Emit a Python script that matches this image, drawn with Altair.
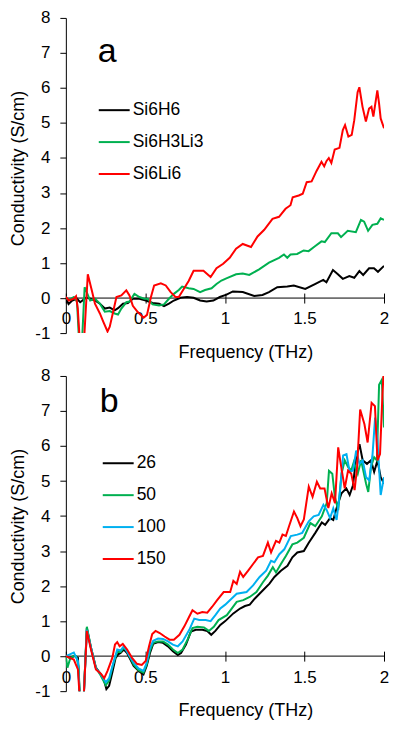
import altair as alt
import pandas as pd

FONT = "Liberation Sans"

# ---------------- Panel a ----------------
a_names = ["Si6H6", "Si6H3Li3", "Si6Li6"]
a_colors = ["#000000", "#00B050", "#FF0000"]

a_black_f = [0, 0.017, 0.04, 0.07, 0.09, 0.13, 0.153, 0.183, 0.214, 0.245, 0.276, 0.307, 0.328, 0.359,
             0.39, 0.421, 0.462, 0.504, 0.545, 0.586, 0.617, 0.648, 0.679, 0.72, 0.762, 0.803, 0.844,
             0.885, 0.927, 0.968, 1.01, 1.05, 1.112, 1.184, 1.236, 1.277, 1.329, 1.392, 1.433, 1.505,
             1.566, 1.618, 1.638, 1.679, 1.71, 1.741, 1.782, 1.813, 1.845, 1.869, 1.906, 1.937, 1.962, 2.0]
a_black_v = [0, -0.17, -0.07, -0.02, -0.12, 0.02, -0.02, -0.07, -0.16, -0.30, -0.27, -0.35, -0.29, -0.16,
             -0.14, -0.02, -0.02, -0.07, -0.14, -0.16, -0.23, -0.16, -0.07, 0.01, 0.03, 0.01, -0.07,
             -0.10, -0.07, 0.03, 0.10, 0.19, 0.17, 0.06, 0.09, 0.17, 0.31, 0.33, 0.36, 0.26,
             0.40, 0.52, 0.45, 0.80, 0.68, 0.55, 0.63, 0.58, 0.77, 0.66, 0.85, 0.85, 0.75, 0.92]

a_green_f = [0, 0.02, 0.05, 0.07, 0.085, 0.1, 0.118, 0.153, 0.183, 0.214, 0.245, 0.276, 0.307, 0.328,
             0.349, 0.38, 0.4, 0.431, 0.462, 0.493, 0.514, 0.545, 0.586, 0.617, 0.648, 0.679, 0.71,
             0.731, 0.772, 0.803, 0.844, 0.875, 0.916, 0.947, 0.978, 1.009, 1.07, 1.112, 1.153, 1.215,
             1.277, 1.34, 1.371, 1.392, 1.412, 1.454, 1.495, 1.526, 1.566, 1.607, 1.628, 1.669, 1.71,
             1.73, 1.772, 1.823, 1.855, 1.875, 1.9, 1.927, 1.958, 1.979, 2.0]
a_green_v = [0, -0.05, 0.03, -0.1, -1.4, -1.4, 0.31, -0.07, -0.02, -0.16, -0.39, -0.37, -0.44, -0.47,
             -0.30, -0.12, -0.10, 0.12, 0.03, -0.02, -0.02, -0.18, -0.21, -0.18, -0.02, 0.12, 0.23,
             0.33, 0.28, 0.26, 0.17, 0.23, 0.28, 0.40, 0.50, 0.56, 0.68, 0.70, 0.66, 0.82,
             1.01, 1.15, 1.245, 1.15, 1.245, 1.26, 1.36, 1.34, 1.48, 1.62, 1.60, 1.85, 1.85,
             1.74, 1.92, 1.88, 2.23, 2.18, 1.92, 2.09, 2.12, 2.275, 2.23]

a_red_f = [0, 0.019, 0.05, 0.064, 0.075, 0.09, 0.112, 0.138, 0.163, 0.183, 0.214, 0.235, 0.262, 0.276,
           0.297, 0.318, 0.349, 0.38, 0.4, 0.421, 0.452, 0.489, 0.51, 0.535, 0.555, 0.597, 0.628,
           0.659, 0.689, 0.71, 0.741, 0.772, 0.803, 0.865, 0.91, 0.947, 0.989, 1.03, 1.07, 1.112,
           1.164, 1.205, 1.247, 1.299, 1.34, 1.381, 1.412, 1.426, 1.464, 1.489, 1.514, 1.545, 1.576,
           1.607, 1.624, 1.638, 1.653, 1.669, 1.69, 1.72, 1.741, 1.755, 1.776, 1.797, 1.813, 1.834,
           1.845, 1.865, 1.886, 1.906, 1.921, 1.933, 1.958, 1.969, 1.979, 2.0]
a_red_v = [0.03, -0.07, -0.02, 0.05, -0.3, -1.4, -1.4, 0.68, 0.22, -0.16, -0.44, -0.67, -0.955, -0.82,
           -0.40, 0.03, 0.075, 0.22, 0.075, -0.22, -0.40, -0.56, -0.48, 0.03, 0.36, 0.42, 0.36,
           0.17, 0.03, 0.03, 0.26, 0.49, 0.78, 0.78, 0.60, 0.85, 0.98, 1.15, 1.41, 1.545,
           1.46, 1.76, 1.95, 2.26, 2.32, 2.55, 2.65, 2.88, 2.93, 2.98, 3.31, 3.33, 3.63,
           3.89, 3.76, 3.91, 4.0, 3.86, 4.24, 4.29, 4.8, 4.94, 4.61, 4.66, 5.08, 5.88,
           6.02, 5.46, 5.04, 5.41, 5.46, 5.18, 5.93, 5.55, 5.13, 4.85]

# ---------------- Panel b ----------------
b_names = ["26", "50", "100", "150"]
b_colors = ["#000000", "#00B050", "#00B0F0", "#FF0000"]

b_black_f = [0, 0.025, 0.056, 0.076, 0.09, 0.11, 0.132, 0.158, 0.189, 0.22, 0.241, 0.255, 0.272, 0.292,
             0.313, 0.329, 0.344, 0.364, 0.385, 0.405, 0.426, 0.457, 0.488, 0.508, 0.529, 0.549, 0.58,
             0.611, 0.642, 0.673, 0.704, 0.724, 0.755, 0.786, 0.817, 0.858, 0.889, 0.914, 0.94, 0.971,
             1.002, 1.053, 1.095, 1.126, 1.156, 1.187, 1.239, 1.28, 1.311, 1.352, 1.393, 1.424, 1.455,
             1.496, 1.527, 1.568, 1.609, 1.63, 1.661, 1.681, 1.702, 1.733, 1.763, 1.784, 1.805, 1.825,
             1.846, 1.866, 1.893, 1.918, 1.938, 1.959, 1.979, 2.0]
b_black_v = [0, -0.05, 0, -0.05, -1.4, -1.4, 0.80, 0.24, -0.33, -0.52, -0.70, -0.94, -0.85, -0.47,
             -0.05, 0.05, 0.09, 0.19, 0.09, -0.09, -0.28, -0.42, -0.52, -0.28, 0.09, 0.35, 0.40,
             0.38, 0.28, 0.14, 0.03, 0.09, 0.33, 0.70, 0.75, 0.75, 0.72, 0.61, 0.72, 0.89,
             1.0, 1.22, 1.36, 1.43, 1.47, 1.64, 1.88, 2.07, 2.26, 2.44, 2.58, 2.82, 2.96,
             3.0, 3.24, 3.52, 3.82, 3.75, 3.94, 3.89, 4.23, 4.65, 4.79, 4.60, 4.88, 5.68,
             6.05, 5.59, 5.49, 5.59, 5.26, 5.59, 5.11, 4.93]

b_green_f = [0, 0.01, 0.025, 0.044, 0.065, 0.08, 0.09, 0.11, 0.132, 0.158, 0.189, 0.22, 0.251, 0.272,
             0.297, 0.323, 0.344, 0.364, 0.385, 0.426, 0.457, 0.488, 0.508, 0.529, 0.549, 0.58, 0.611,
             0.642, 0.673, 0.704, 0.734, 0.765, 0.796, 0.827, 0.868, 0.899, 0.93, 0.96, 1.012, 1.074,
             1.115, 1.156, 1.198, 1.239, 1.27, 1.301, 1.321, 1.352, 1.383, 1.424, 1.455, 1.496, 1.537,
             1.568, 1.609, 1.64, 1.654, 1.675, 1.691, 1.712, 1.733, 1.753, 1.774, 1.794, 1.81, 1.835,
             1.856, 1.887, 1.901, 1.918, 1.938, 1.955, 1.969, 1.986, 2.0]
b_green_v = [0, -0.33, -0.1, 0, 0, -0.3, -1.4, -1.4, 0.84, 0.24, -0.33, -0.56, -0.83, -0.70,
             -0.24, 0.12, 0.12, 0.24, 0.14, -0.24, -0.40, -0.47, -0.24, 0.16, 0.38, 0.42, 0.42,
             0.33, 0.19, 0.09, 0.19, 0.47, 0.80, 0.84, 0.82, 0.72, 0.84, 1.03, 1.17, 1.55,
             1.60, 1.69, 1.83, 2.11, 2.30, 2.54, 2.39, 2.63, 2.86, 3.19, 3.24, 3.38, 3.80,
             3.71, 3.99, 4.37, 5.29, 5.21, 4.55, 4.17, 5.21, 5.59, 5.40, 5.30, 5.54, 5.21,
             5.59, 4.93, 4.69, 5.40, 5.68, 5.59, 7.75, 7.89, 6.53]

b_blue_f = [0, 0.025, 0.05, 0.076, 0.09, 0.11, 0.132, 0.158, 0.189, 0.22, 0.251, 0.272, 0.302, 0.323,
            0.344, 0.364, 0.395, 0.426, 0.457, 0.488, 0.508, 0.529, 0.549, 0.58, 0.611, 0.642, 0.673,
            0.704, 0.734, 0.776, 0.807, 0.838, 0.879, 0.91, 0.94, 0.971, 1.002, 1.074, 1.136, 1.177,
            1.218, 1.259, 1.29, 1.311, 1.342, 1.373, 1.414, 1.455, 1.486, 1.527, 1.558, 1.589, 1.619,
            1.64, 1.661, 1.681, 1.702, 1.723, 1.743, 1.764, 1.784, 1.805, 1.825, 1.846, 1.866, 1.887,
            1.907, 1.928, 1.944, 1.959, 1.979, 2.0]
b_blue_v = [0, 0.05, 0.10, -0.14, -1.4, -1.4, 0.75, 0.24, -0.35, -0.52, -0.75, -0.63, -0.14, 0.19,
            0.16, 0.28, 0.05, -0.19, -0.35, -0.42, -0.19, 0.24, 0.44, 0.50, 0.49, 0.42, 0.33,
            0.28, 0.42, 0.75, 1.07, 1.03, 1.03, 1.0, 1.17, 1.36, 1.47, 1.78, 1.83, 2.02,
            2.26, 2.44, 2.72, 2.68, 2.91, 3.05, 3.43, 3.47, 3.52, 3.85, 3.99, 4.03, 4.32,
            4.17, 3.94, 4.22, 3.89, 4.69, 5.73, 5.77, 5.26, 5.30, 5.87, 5.49, 5.59, 5.11,
            5.02, 5.77, 6.81, 6.15, 4.60, 5.11]

b_red_f = [0, 0.025, 0.05, 0.076, 0.09, 0.11, 0.132, 0.158, 0.189, 0.22, 0.241, 0.262, 0.292, 0.309,
           0.323, 0.338, 0.358, 0.385, 0.416, 0.447, 0.477, 0.502, 0.523, 0.543, 0.564, 0.59, 0.621,
           0.652, 0.679, 0.714, 0.745, 0.776, 0.796, 0.827, 0.858, 0.889, 0.92, 0.951, 0.992, 1.033,
           1.053, 1.074, 1.095, 1.115, 1.146, 1.177, 1.208, 1.239, 1.27, 1.29, 1.321, 1.342, 1.362,
           1.383, 1.403, 1.434, 1.455, 1.475, 1.496, 1.527, 1.551, 1.578, 1.599, 1.626, 1.65, 1.671,
           1.692, 1.712, 1.728, 1.753, 1.774, 1.794, 1.815, 1.831, 1.85, 1.877, 1.897, 1.922, 1.943,
           1.959, 1.975, 1.99, 2.0]
b_red_v = [0, -0.05, -0.10, -0.38, -1.4, -1.4, 0.72, 0.19, -0.38, -0.50, -0.63, -0.42, -0.05, 0.33,
           0.40, 0.28, 0.35, 0.19, -0.05, -0.22, -0.25, -0.14, 0.28, 0.63, 0.72, 0.66, 0.56,
           0.47, 0.47, 0.61, 0.85, 1.13, 1.31, 1.21, 1.26, 1.24, 1.41, 1.60, 1.83, 1.83,
           2.15, 2.06, 2.41, 2.26, 2.44, 2.63, 2.82, 2.86, 3.24, 2.96, 3.29, 3.24, 3.47,
           3.43, 3.71, 4.13, 3.94, 3.71, 3.90, 4.84, 4.55, 4.98, 4.79, 4.79, 4.23, 4.65,
           4.37, 5.96, 5.49, 4.79, 5.30, 5.21, 4.74, 5.40, 7.04, 6.62, 6.10, 7.23, 7.14,
           5.59, 5.77, 7.46, 8.3]

y_ticks = [-1, 0, 1, 2, 3, 4, 5, 6, 7, 8]
x_ticks = [0, 0.5, 1, 1.5, 2]


def frame(name, f, v):
    if len(f) != len(v):
        raise ValueError(f"{name}: {len(f)} freqs vs {len(v)} values")
    return pd.DataFrame({"freq": f, "cond": v, "series": name})


df_a = pd.concat([frame("Si6H6", a_black_f, a_black_v),
                  frame("Si6H3Li3", a_green_f, a_green_v),
                  frame("Si6Li6", a_red_f, a_red_v)], ignore_index=True)
df_b = pd.concat([frame("26", b_black_f, b_black_v),
                  frame("50", b_green_f, b_green_v),
                  frame("100", b_blue_f, b_blue_v),
                  frame("150", b_red_f, b_red_v)], ignore_index=True)

W, H = 319, 316
ZERO_FROM_BOTTOM = H / 9.0


def panel(df, names, colors, letter, letter_x, letter_y, leg_x, leg_y):
    x = alt.X("freq:Q",
              scale=alt.Scale(domain=[0, 2], nice=False, zero=False),
              axis=alt.Axis(values=x_ticks, format="~g", domain=False,
                            offset=-(ZERO_FROM_BOTTOM + 5), tickSize=10, labelPadding=8,
                            grid=False, labelFlush=False, labelOverlap=False,
                            title="Frequency (THz)", titlePadding=17, titleX=180))
    y = alt.Y("cond:Q",
              scale=alt.Scale(domain=[-1, 8], nice=False, zero=False),
              axis=alt.Axis(values=y_ticks, labelExpr="'' + datum.value",
                            tickSize=6, labelPadding=10, grid=False,
                            labelFlush=False, labelOverlap=False,
                            title="Conductivity (S/cm)", titlePadding=7, titleY=H / 2 - 7.5))
    color = alt.Color("series:N",
                      scale=alt.Scale(domain=names, range=colors),
                      sort=names,
                      legend=alt.Legend(title=None, orient="none", legendX=leg_x, legendY=leg_y,
                                        symbolType="stroke", symbolSize=961, symbolStrokeWidth=2,
                                        labelFontSize=17.5, labelFont=FONT, labelColor="black",
                                        rowPadding=7, labelOffset=2, padding=0))
    zero = alt.Chart(pd.DataFrame({"cond": [0.0]})).mark_rule(
        color="black", strokeWidth=1).encode(y=y)
    lines = alt.Chart(df).mark_line(strokeWidth=2, clip=True).encode(x=x, y=y, color=color)
    label = alt.Chart(pd.DataFrame({"t": [letter]})).mark_text(
        fontSize=34, font=FONT, align="left", baseline="alphabetic", color="black"
    ).encode(x=alt.value(letter_x), y=alt.value(letter_y), text="t:N")
    return alt.layer(zero, lines, label).properties(width=W, height=H)


pa = panel(df_a, a_names, a_colors, "a", 32, 44, 32, 76)
pb = panel(df_b, b_names, b_colors, "b", 34, 36, 36, 71)

chart = alt.vconcat(pa, pb, spacing=5).resolve_scale(color="independent").resolve_legend(
    color="independent"
).properties(
    padding={"left": 1, "top": 0, "right": 0, "bottom": 0}
).configure_axis(
    labelFont=FONT, titleFont=FONT, labelFontSize=17, titleFontSize=18,
    titleFontWeight="normal", labelColor="black", titleColor="black",
    domainColor="black", tickColor="black", domainWidth=1, tickWidth=1,
    labelOverlap=False, labelFlush=False
).configure_view(stroke=None)

chart.save("out.html", embed_options={"renderer": "svg", "actions": False})
